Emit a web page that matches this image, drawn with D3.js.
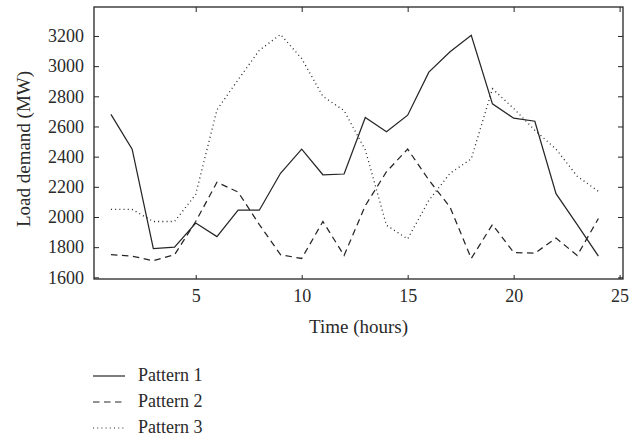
<!DOCTYPE html>
<html>
<head>
<meta charset="utf-8">
<script src="https://cdn.jsdelivr.net/npm/d3@7"></script>
<style>
	body { margin: 0; background: #fff; }
	text { font-family: "Liberation Serif", "DejaVu Serif", serif; fill: #2a2a2a; }
</style>
</head>
<body>
<script>

//-----------------------------------------------------------------------------------------------------------------DATA

var hours = [1, 2, 3, 4, 5, 6, 7, 8, 9, 10, 11, 12, 13, 14, 15, 16, 17, 18, 19, 20, 21, 22, 23, 24];

var pattern1 = [2680, 2450, 1790, 1800, 1960, 1870, 2045, 2045, 2290, 2450, 2280, 2285,
                2660, 2565, 2675, 2960, 3095, 3205, 2750, 2655, 2635, 2155, 1950, 1740];
var pattern2 = [1750, 1740, 1710, 1750, 1970, 2230, 2165, 1950, 1750, 1725, 1970, 1745,
                2075, 2300, 2450, 2245, 2065, 1725, 1950, 1765, 1760, 1860, 1745, 1990];
var pattern3 = [2050, 2050, 1970, 1970, 2150, 2710, 2910, 3105, 3210, 3050, 2800, 2705,
                2445, 1945, 1855, 2110, 2290, 2385, 2850, 2720, 2575, 2450, 2270, 2170];

var seriesNames = ["Pattern 1", "Pattern 2", "Pattern 3"];
var seriesDash = ["none", "6.5,4.5", "1,3.2"];

var xTicks = [5, 10, 15, 20, 25];
var yTicks = [1600, 1800, 2000, 2200, 2400, 2600, 2800, 3000, 3200];

var xLabel = "Time (hours)";
var yLabel = "Load demand (MW)";

//-----------------------------------------------------------------------------------------------------------------LAYOUT

var W = 643, H = 443;
var plot = { x: 94, y: 7, width: 529, height: 272 };
var ink = "#262626";

var svg = d3.select("body").append("svg").attr("width", W).attr("height", H);

var x = d3.scaleLinear().domain([0.2, 25.16]).range([plot.x, plot.x + plot.width]);
var y = d3.scaleLinear().domain([1589, 3392]).range([plot.y + plot.height, plot.y]);

//-----------------------------------------------------------------------------------------------------------------AXES

// ticks point inward on all four sides (matlab style)
function styleAxis(g, showText){
	g.select(".domain").remove();
	g.selectAll(".tick line").attr("stroke", ink).attr("stroke-width", 1);
	g.selectAll(".tick text").style("font-size", "18px").attr("fill", ink);
	if(!showText) g.selectAll(".tick text").remove();
}

svg.append("g")
	.attr("transform", "translate(0," + (plot.y + plot.height) + ")")
	.call(d3.axisBottom(x).tickValues(xTicks).tickFormat(d3.format("d")).tickSizeInner(-4).tickSizeOuter(0).tickPadding(10))
	.call(styleAxis, true);

svg.append("g")
	.attr("transform", "translate(0," + plot.y + ")")
	.call(d3.axisTop(x).tickValues(xTicks).tickSizeInner(-5).tickSizeOuter(0))
	.call(styleAxis, false);

svg.append("g")
	.attr("transform", "translate(" + plot.x + ",0)")
	.call(d3.axisLeft(y).tickValues(yTicks).tickFormat(d3.format("d")).tickSizeInner(-5).tickSizeOuter(0).tickPadding(10))
	.call(styleAxis, true);

svg.append("g")
	.attr("transform", "translate(" + (plot.x + plot.width) + ",0)")
	.call(d3.axisRight(y).tickValues(yTicks).tickSizeInner(-5).tickSizeOuter(0))
	.call(styleAxis, false);

// frame
svg.append("rect")
	.attr("x", plot.x).attr("y", plot.y)
	.attr("width", plot.width).attr("height", plot.height)
	.attr("fill", "none").attr("stroke", ink).attr("stroke-width", 1.3);

// axis titles
svg.append("text")
	.attr("x", plot.x + plot.width / 2).attr("y", 333)
	.attr("text-anchor", "middle")
	.style("font-size", "19px")
	.text(xLabel);

svg.append("text")
	.attr("transform", "translate(30,149) rotate(-90)")
	.attr("text-anchor", "middle")
	.style("font-size", "19px")
	.text(yLabel);

//-----------------------------------------------------------------------------------------------------------------LINES

var series = [pattern1, pattern2, pattern3];

var line = d3.line()
	.x(function(d, i){ return x(hours[i]); })
	.y(function(d){ return y(d); });

for(var i = 0; i < series.length; i++){
	svg.append("path")
		.datum(series[i])
		.attr("d", line)
		.attr("fill", "none")
		.attr("stroke", ink)
		.attr("stroke-width", i == 2 ? 1.3 : 1.25)
		.attr("stroke-dasharray", seriesDash[i]);
}

//-----------------------------------------------------------------------------------------------------------------LEGEND

var legend = svg.append("g").attr("transform", "translate(93,376)");

for(var k = 0; k < seriesNames.length; k++){
	var row = legend.append("g").attr("transform", "translate(0," + (k * 26) + ")");
	row.append("line")
		.attr("x1", 0).attr("x2", 32).attr("y1", 0).attr("y2", 0)
		.attr("stroke", ink)
		.attr("stroke-width", 1.2)
		.attr("stroke-dasharray", seriesDash[k]);
	row.append("text")
		.attr("x", 45).attr("y", 5)
		.style("font-size", "18px")
		.text(seriesNames[k]);
}

</script>
</body>
</html>
